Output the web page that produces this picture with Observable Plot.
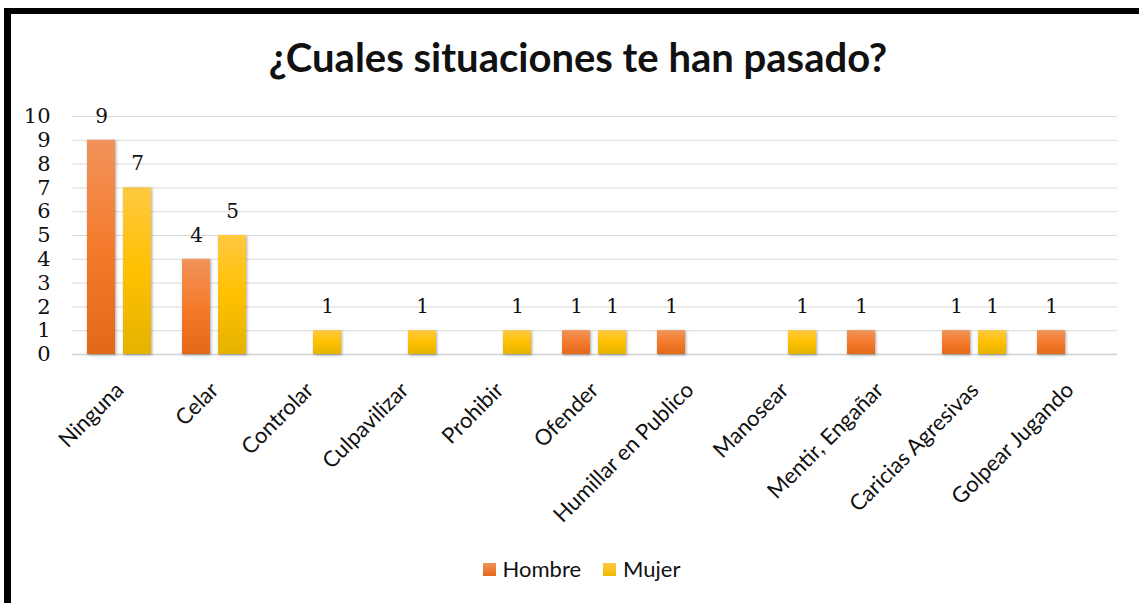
<!DOCTYPE html>
<html>
<head>
<meta charset="utf-8">
<script src="https://cdn.jsdelivr.net/npm/d3@7"></script>
<script src="https://cdn.jsdelivr.net/npm/@observablehq/plot@0.6"></script>
<style>
  html, body { margin: 0; padding: 0; background: #fff; overflow: hidden; }
  body { width: 1139px; height: 603px; position: relative; }
  #frame { position: absolute; left: 4px; top: 8px; width: 1300px; height: 800px;
           border-left: 7px solid #000; border-top: 6px solid #000; box-sizing: border-box; }
  #title { position: absolute; left: 0; top: 37px; width: 1156px; text-align: center;
           font-family: Lato, "Open Sans", sans-serif; font-weight: bold; font-size: 40px;
           line-height: 40px; color: #111; }
  #chart { position: absolute; left: 0; top: 0; }
  #legend { position: absolute; left: 0; top: 556px; width: 1163px; display: flex; justify-content: center;
            font-family: Lato, "Open Sans", sans-serif; font-size: 22px; color: #111; line-height: 26px; }
  .item { display: flex; align-items: center; margin: 0 11px; }
  .sw { width: 13px; height: 13px; margin-right: 7px; }
  #chart svg g[aria-label="bar"] { filter: drop-shadow(1.5px 1.5px 1.5px rgba(0,0,0,0.35)); }
</style>
</head>
<body>
<div id="frame"></div>
<div id="title">¿Cuales situaciones te han pasado?</div>
<div id="chart"></div>
<div id="legend"></div>
<script>
const categories = ["Ninguna", "Celar", "Controlar", "Culpavilizar", "Prohibir", "Ofender",
  "Humillar en Publico", "Manosear", "Mentir, Engañar", "Caricias Agresivas", "Golpear Jugando"];
const series = ["Hombre", "Mujer"];
const hombre = [9, 4, 0, 0, 0, 1, 1, 0, 1, 1, 1];
const mujer  = [7, 5, 1, 1, 1, 1, 0, 1, 0, 1, 0];
const yTicks = [0, 1, 2, 3, 4, 5, 6, 7, 8, 9, 10];

const data = categories.flatMap((c, i) => [
  {cat: c, s: "Hombre", v: hombre[i]},
  {cat: c, s: "Mujer", v: mujer[i]}
]);

const chart = Plot.plot({
  width: 1139,
  height: 550,
  marginLeft: 72,
  marginRight: 22,
  marginTop: 116,
  marginBottom: 196,
  style: {fontFamily: "Lato, sans-serif", fontSize: "16px", background: "transparent", color: "#111"},
  fx: {domain: categories, padding: 0, label: null},
  x: {domain: series, axis: null, paddingInner: 0.216, paddingOuter: 0.392},
  y: {domain: [0, 10], label: null},
  marks: [
    Plot.ruleY(yTicks.filter(t => t > 0), {stroke: "#d9d9d9", strokeWidth: 1}),
    Plot.ruleY([0], {stroke: "#d0d0d0", strokeWidth: 1.5}),
    Plot.axisY({ticks: yTicks, tickSize: 0, tickPadding: 22, label: null, tickFormat: d => String(d),
      fontFamily: "DejaVu Serif, serif", fontSize: 21, fill: "#111"}),
    Plot.axisFx({anchor: "bottom", tickRotate: -45, tickSize: 0, tickPadding: 32, label: null,
      fontFamily: "Lato, sans-serif", fontSize: 22, fill: "#111"}),
    Plot.barY(data.filter(d => d.s === "Hombre" && d.v > 0), {fx: "cat", x: "s", y: "v", fill: "url(#gH)"}),
    Plot.barY(data.filter(d => d.s === "Mujer" && d.v > 0), {fx: "cat", x: "s", y: "v", fill: "url(#gM)"}),
    Plot.text(data.filter(d => d.v > 0), {fx: "cat", x: "s", y: "v", text: d => String(d.v), dy: -24,
      fontFamily: "DejaVu Serif, serif", fontSize: 20, fill: "#111"})
  ]
});

const defs = d3.select(chart).insert("defs", ":first-child");
const gH = defs.append("linearGradient").attr("id", "gH").attr("x1", 0).attr("y1", 0).attr("x2", 0).attr("y2", 1);
gH.append("stop").attr("offset", "0%").attr("stop-color", "#F1935A");
gH.append("stop").attr("offset", "50%").attr("stop-color", "#F47B2C");
gH.append("stop").attr("offset", "100%").attr("stop-color", "#E2681A");
const gM = defs.append("linearGradient").attr("id", "gM").attr("x1", 0).attr("y1", 0).attr("x2", 0).attr("y2", 1);
gM.append("stop").attr("offset", "0%").attr("stop-color", "#FFC940");
gM.append("stop").attr("offset", "50%").attr("stop-color", "#FFC000");
gM.append("stop").attr("offset", "100%").attr("stop-color", "#E4B300");

document.getElementById("chart").appendChild(chart);

const legendColors = {"Hombre": "linear-gradient(#F1935A, #E2681A)", "Mujer": "linear-gradient(#FFC940, #F0B800)"};
const legend = document.getElementById("legend");
series.forEach(s => {
  const it = document.createElement("div");
  it.className = "item";
  const sw = document.createElement("div");
  sw.className = "sw";
  sw.style.background = legendColors[s];
  const t = document.createElement("span");
  t.textContent = s;
  it.appendChild(sw);
  it.appendChild(t);
  legend.appendChild(it);
});
</script>
</body>
</html>
